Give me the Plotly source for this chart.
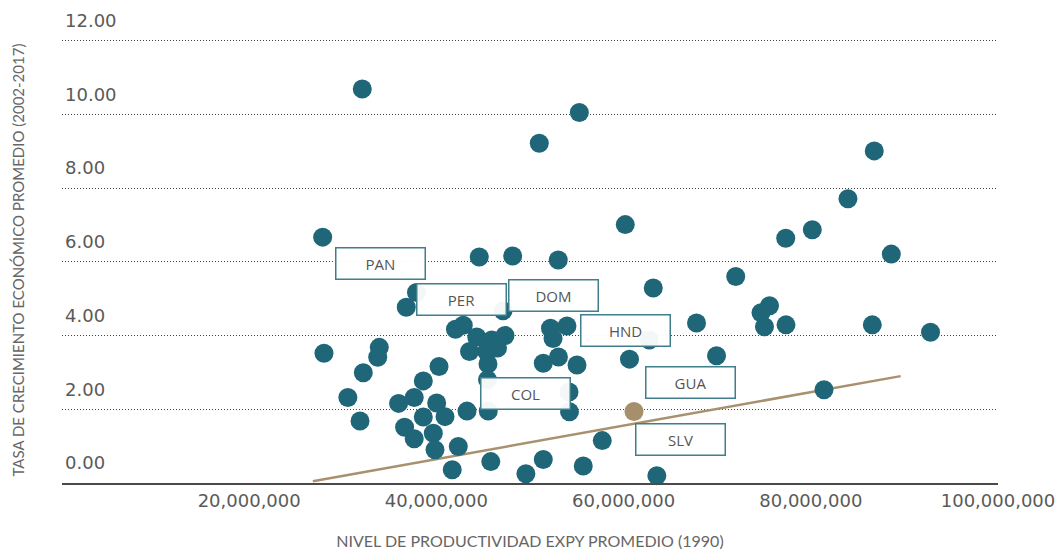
import plotly.graph_objects as go

# Productivity level (EXPY, 1990) in millions and average growth 2002-2017
expy_mill = [32.08, 55.27, 50.99, 86.78, 83.97, 60.18, 80.16, 77.32, 27.85, 88.60,
             44.58, 48.15, 53.02, 71.98, 63.17, 37.87, 36.78, 47.12, 75.59, 74.68,
             75.05, 77.35, 86.57, 92.79, 67.79, 42.04, 42.87, 44.31, 45.91, 47.33,
             43.54, 45.37, 46.53, 45.51, 45.46, 52.19, 53.95, 52.46, 51.42, 53.04,
             55.02, 62.75, 60.63, 69.93, 27.99, 33.90, 33.73, 32.19, 30.54, 31.84,
             35.96, 37.63, 38.60, 40.28, 40.03, 36.60, 37.63, 38.60, 39.67, 39.85,
             40.92, 42.34, 43.27, 45.54, 54.22, 54.17, 45.81, 41.69, 49.56, 51.42,
             55.69, 57.72, 63.55, 81.41]
growth = [10.69, 10.05, 9.22, 9.01, 7.71, 7.01, 6.87, 6.64, 6.67, 6.21,
          6.13, 6.16, 6.05, 5.60, 5.29, 5.17, 4.77, 4.67, 4.81, 4.62,
          4.24, 4.29, 4.29, 4.09, 4.34, 4.17, 4.28, 3.96, 3.88, 4.00,
          3.57, 3.57, 3.66, 3.23, 2.80, 4.20, 4.26, 3.92, 3.25, 3.42,
          3.20, 3.88, 3.36, 3.45, 3.52, 3.68, 3.41, 2.99, 2.32, 1.68,
          2.16, 2.32, 2.77, 3.16, 2.17, 1.51, 1.20, 1.79, 1.35, 0.90,
          1.80, 0.99, 1.95, 1.95, 1.93, 2.47, 0.58, 0.36, 0.25, 0.64,
          0.46, 1.15, 0.20, 2.53]

# El Salvador highlighted
slv_expy_mill = [61.11]
slv_growth = [1.94]

# Linear trend (endpoints)
trend_expy_mill = [26.8, 89.6]
trend_growth = [0.05, 2.90]

# Country labels
label_text = ["PAN", "PER", "DOM", "HND", "COL", "GUA", "SLV"]
label_expy_mill = [34.08, 42.63, 52.46, 60.15, 49.57, 67.20, 66.13]
label_growth = [5.95, 4.97, 5.08, 4.15, 2.44, 2.72, 1.19]

x_ticks = [20e6, 40e6, 60e6, 80e6, 100e6]
x_ticktext = ["20,000,000", "40,000,000", "60,000,000", "80,000,000", "100,000,000"]
y_ticks = [0, 2, 4, 6, 8, 10, 12]
y_ticktext = ["0.00", "2.00", "4.00", "6.00", "8.00", "10.00", "12.00"]

M = 1e6
TEAL = "#1f6678"
TAN = "#a68f6b"
TICKFONT = dict(family="DejaVu Sans", size=18, color="#5a5a5a")

fig = go.Figure()
fig.add_trace(go.Scatter(
    x=[v * M for v in trend_expy_mill], y=trend_growth, mode="lines",
    line=dict(color="#a8916e", width=2.5), hoverinfo="skip", showlegend=False))
fig.add_trace(go.Scatter(
    x=[v * M for v in expy_mill], y=growth, mode="markers",
    marker=dict(color=TEAL, size=19, line=dict(width=0)),
    cliponaxis=False, showlegend=False))
fig.add_trace(go.Scatter(
    x=[v * M for v in slv_expy_mill], y=slv_growth, mode="markers",
    marker=dict(color=TAN, size=19, line=dict(width=0)),
    cliponaxis=False, showlegend=False))

for t, lx, ly in zip(label_text, label_expy_mill, label_growth):
    fig.add_annotation(
        x=lx * M, y=ly, text=t, showarrow=False,
        font=dict(family="Open Sans", size=15, color="#555555"),
        bgcolor="rgba(255,255,255,0.95)", bordercolor="#3f7f8c",
        borderwidth=1.5, width=86, height=28, align="center", valign="middle")

fig.update_layout(
    width=1064, height=553,
    margin=dict(l=62, r=66, t=37, b=70),
    plot_bgcolor="white", paper_bgcolor="white",
    font=dict(family="Lato", color="#555555"),
    xaxis=dict(
        range=[0, 100e6], tickvals=x_ticks, ticktext=x_ticktext,
        showgrid=False, zeroline=False, automargin=False,
        showline=True, linecolor="#4a4a4a", linewidth=2,
        ticks="", tickfont=TICKFONT,
        title=dict(text="NIVEL DE PRODUCTIVIDAD EXPY PROMEDIO (1990)",
                   font=dict(family="Lato", size=16, color="#666666"), standoff=26)),
    yaxis=dict(
        range=[0, 12.1], tickvals=y_ticks, ticktext=y_ticktext,
        showgrid=True, gridcolor="#444444", griddash="1px,2px", gridwidth=1,
        zeroline=False, showline=False, ticks="", automargin=False,
        ticklabelposition="inside", ticklabelshift=-20, ticklabeloverflow="allow",
        tickfont=TICKFONT,
        title=dict(text="TASA DE CRECIMIENTO ECONÓMICO PROMEDIO (2002-2017)",
                   font=dict(family="Lato", size=15, color="#666666"), standoff=36)),
)

fig.write_html("out.html", config={"displayModeBar": False},
               post_script="document.body.style.margin='0';")
